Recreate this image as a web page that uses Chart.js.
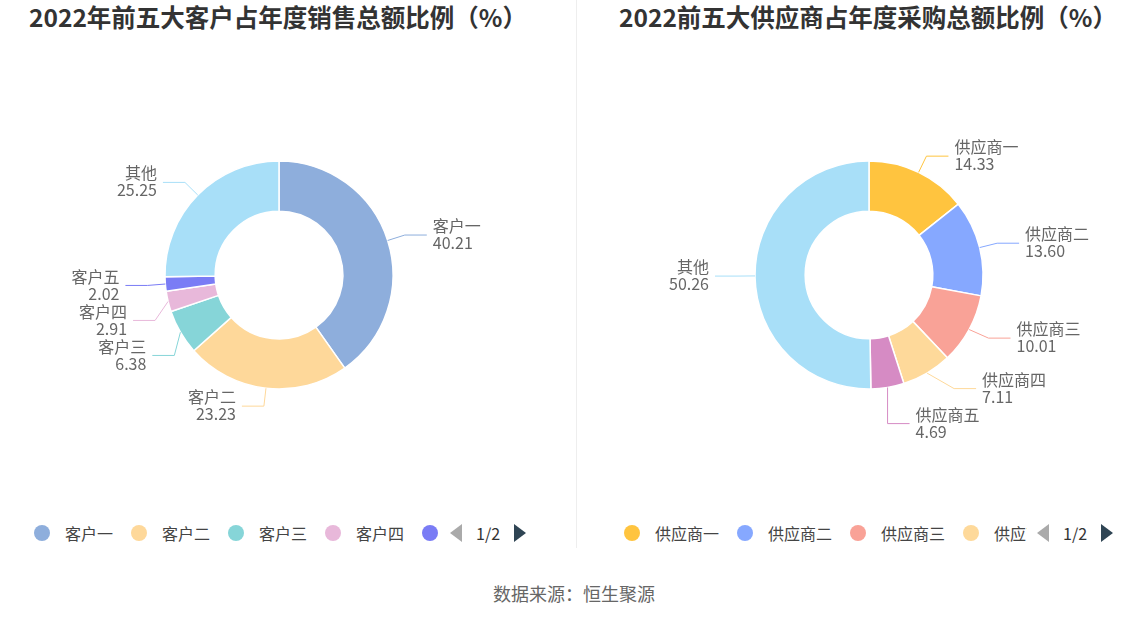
<!DOCTYPE html>
<html>
<head>
<meta charset="utf-8">
<script src="https://cdn.jsdelivr.net/npm/chart.js@4/dist/chart.umd.min.js"></script>
<style>
  body { margin: 0; width: 1148px; height: 619px; background: #fff; position: relative; overflow: hidden;
         font-family: "Noto Sans CJK SC", "Noto Sans", sans-serif; }
  .title { position: absolute; top: 0; line-height: 34px; font-size: 24.5px; font-weight: bold; color: #333; text-align: center; }
  .sep { position: absolute; left: 576px; top: 0; width: 1px; height: 548px; background: #eee; }
  canvas { position: absolute; top: 40px; }
  .legend { position: absolute; top: 524px; height: 18px; display: flex; align-items: center; }
  .legend .items { overflow: hidden; white-space: nowrap; display: flex; align-items: center; }
  .legend .item { display: inline-flex; align-items: center; flex: none; }
  .legend .dot { width: 16px; height: 16px; border-radius: 50%; margin-right: 15px; }
  .legend .txt { font-size: 16px; color: #444; margin-right: 18px; line-height: 18px; }
  .pager { display: flex; align-items: center; margin-left: 10px; }
  .prev { width: 0; height: 0; border-top: 9px solid transparent; border-bottom: 9px solid transparent; border-right: 12px solid #aaa; }
  .next { width: 0; height: 0; border-top: 9px solid transparent; border-bottom: 9px solid transparent; border-left: 12px solid #2f4554; }
  .page { font-size: 16px; color: #333; margin: 0 14px; }
  .source { position: absolute; left: 0; width: 1148px; top: 580px; text-align: center; font-size: 18px; color: #666; line-height: 26px; }
</style>
</head>
<body>
<div class="title" style="left:5px;width:546px">2022年前五大客户占年度销售总额比例（%）</div>
<div class="title" style="left:581px;width:574px">2022前五大供应商占年度采购总额比例（%）</div>
<div class="sep"></div>
<canvas id="ch-client" width="574" height="470" style="left:0"></canvas>
<canvas id="ch-supplier" width="571" height="470" style="left:577px"></canvas>
<div class="legend" id="lg-client" style="left:34px"></div>
<div class="legend" id="lg-supplier" style="left:624px"></div>
<div class="source">数据来源：恒生聚源</div>

<script>
// ── Datos ──────────────────────────────────────────────────────────────
const clientLabels   = ['客户一', '客户二', '客户三', '客户四', '客户五', '其他'];
const clientValues   = [40.21, 23.23, 6.38, 2.91, 2.02, 25.25];
const clientColors   = ['#8eaedc', '#fed89a', '#86d5d8', '#e8b8da', '#7a7cf5', '#a8dff8'];

const supplierLabels = ['供应商一', '供应商二', '供应商三', '供应商四', '供应商五', '其他'];
const supplierValues = [14.33, 13.60, 10.01, 7.11, 4.69, 50.26];
const supplierColors = ['#ffc43f', '#86a8ff', '#f9a297', '#fed99a', '#d68bc4', '#a8dff8'];

const LEN1 = 18, LEN2 = 22, GAP = 35;

// ── Etiquetas externas con linea guia ──────────────────────────────────
const outsideLabels = {
    id: 'outsideLabels',
    afterDatasetsDraw(chart) {
        const ctx    = chart.ctx;
        const ds     = chart.data.datasets[0];
        const meta   = chart.getDatasetMeta(0);
        const items  = meta.data.map((arc, i) => {
            const p   = arc.getProps(['x', 'y', 'startAngle', 'endAngle', 'outerRadius'], true);
            const mid = (p.startAngle + p.endAngle) / 2;
            const cos = Math.cos(mid), sin = Math.sin(mid);
            const R   = p.outerRadius + LEN1;
            return { i, cx: p.x, cy: p.y, R, dir: cos >= 0 ? 1 : -1,
                     x0: p.x + cos * p.outerRadius, y0: p.y + sin * p.outerRadius, ly: p.y + sin * R };
        });

        [1, -1].forEach(dir => {
            const side = items.filter(it => it.dir === dir).sort((a, b) => a.ly - b.ly);
            for (let k = 1; k < side.length; k++) {
                if (side[k].ly - side[k - 1].ly < GAP) side[k].ly = side[k - 1].ly + GAP;
            }
            [side.filter(it => it.ly < it.cy), side.filter(it => it.ly >= it.cy)].forEach(semi => {
                if (!semi.length) return;
                const rB = Math.max(semi[0].R, ...semi.map(it => Math.abs(it.ly - it.cy)));
                semi.forEach(it => {
                    const dy = it.ly - it.cy;
                    let ex = it.cx + dir * it.R * Math.sqrt(Math.max(0, 1 - dy * dy / (rB * rB)));
                    if ((ex - it.x0) * dir < 0) ex = it.x0;
                    it.ex = ex;
                });
            });
        });

        ctx.save();
        ctx.font = '16px "Noto Sans CJK SC", sans-serif';
        ctx.textBaseline = 'middle';
        items.forEach(it => {
            ctx.strokeStyle = ds.backgroundColor[it.i];
            ctx.lineWidth = 1;
            ctx.beginPath();
            ctx.moveTo(it.x0, it.y0);
            ctx.lineTo(it.ex, it.ly);
            ctx.lineTo(it.ex + it.dir * LEN2, it.ly);
            ctx.stroke();

            const tx = it.ex + it.dir * (LEN2 + 6);
            ctx.fillStyle = '#666';
            ctx.textAlign = it.dir > 0 ? 'left' : 'right';
            ctx.fillText(chart.data.labels[it.i], tx, it.ly - 9);
            ctx.fillText(ds.data[it.i].toFixed(2), tx, it.ly + 8);
        });
        ctx.restore();
    },
};

function buildDonut(id, labels, values, colors, padding) {
    const ctx = document.getElementById(id).getContext('2d');
    return new Chart(ctx, {
        type: 'doughnut',
        data: {
            labels,
            datasets: [{
                data: values,
                backgroundColor: colors,
                borderColor: '#fff',
                borderWidth: 1.5,
                radius: 114,
                cutout: '56%',
            }],
        },
        options: {
            responsive: false, animation: false, devicePixelRatio: 1,
            layout: { padding },
            plugins: { legend: { display: false }, tooltip: { enabled: false } },
        },
        plugins: [outsideLabels],
    });
}

// ── Leyenda paginada (HTML) ────────────────────────────────────────────
function buildLegend(id, labels, colors, clipWidth) {
    document.getElementById(id).innerHTML = `
      <div class="items" style="width:${clipWidth}px">${labels.map((l, i) => `
        <span class="item"><span class="dot" style="background:${colors[i]}"></span><span class="txt">${l}</span></span>`).join('')}
      </div>
      <div class="pager"><span class="prev"></span><span class="page">1/2</span><span class="next"></span></div>`;
}

buildDonut('ch-client', clientLabels, clientValues, clientColors, { left: 0, right: 16, top: 0, bottom: 0 });
buildDonut('ch-supplier', supplierLabels, supplierValues, supplierColors, { left: 13, right: 0, top: 0, bottom: 0 });
buildLegend('lg-client', clientLabels, clientColors, 406);
buildLegend('lg-supplier', supplierLabels, supplierColors, 403);
</script>
</body>
</html>
